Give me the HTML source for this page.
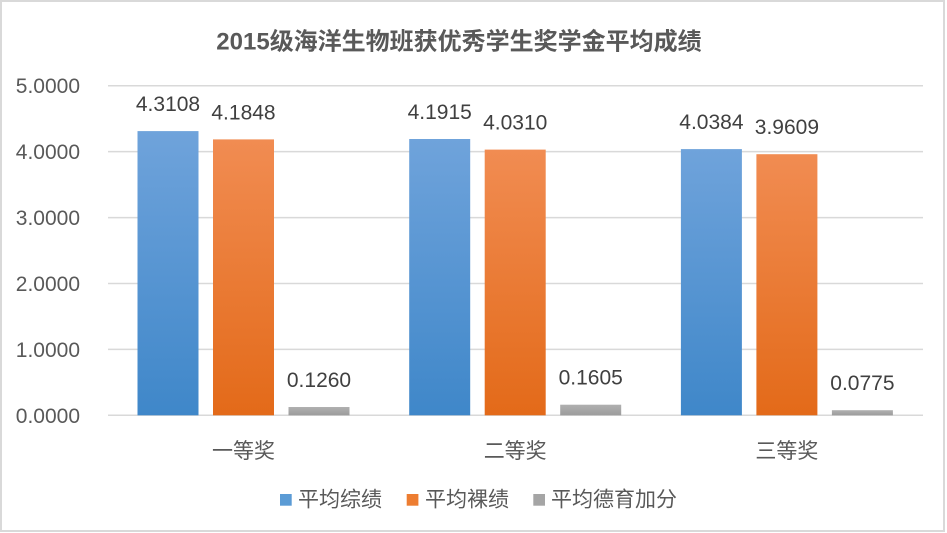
<!DOCTYPE html>
<html><head><meta charset="utf-8"><style>
html,body{margin:0;padding:0;background:#fff;}
svg{display:block;font-family:"Liberation Sans","Noto Sans CJK SC",sans-serif;}
</style></head><body>
<svg width="947" height="533" viewBox="0 0 947 533" xmlns="http://www.w3.org/2000/svg">
<defs>
<linearGradient id="gb" x1="0" y1="0" x2="0" y2="1"><stop offset="0" stop-color="#6fa3db"/><stop offset="1" stop-color="#3f87c9"/></linearGradient>
<linearGradient id="go" x1="0" y1="0" x2="0" y2="1"><stop offset="0" stop-color="#f18c52"/><stop offset="1" stop-color="#e36a19"/></linearGradient>
<linearGradient id="gg" x1="0" y1="0" x2="0" y2="1"><stop offset="0" stop-color="#b0b0b0"/><stop offset="1" stop-color="#9c9c9c"/></linearGradient>
</defs>
<rect x="0" y="0" width="947" height="533" fill="#fff"/>
<rect x="1" y="1" width="943" height="530" fill="none" stroke="#d9d9d9" stroke-width="2"/>
<text x="459" y="49.5" text-anchor="middle" font-size="24" font-weight="bold" fill="#595959">2015级海洋生物班获优秀学生奖学金平均成绩</text>
<g stroke="#d9d9d9" stroke-width="1.5">
<line x1="108" y1="85.7" x2="923" y2="85.7"/>
<line x1="108" y1="151.6" x2="923" y2="151.6"/>
<line x1="108" y1="217.6" x2="923" y2="217.6"/>
<line x1="108" y1="283.5" x2="923" y2="283.5"/>
<line x1="108" y1="349.4" x2="923" y2="349.4"/>
<line x1="108" y1="415.3" x2="923" y2="415.3"/>
</g>
<g font-size="21" fill="#595959" text-anchor="end">
<text x="80" y="93.2">5.0000</text>
<text x="80" y="159.1">4.0000</text>
<text x="80" y="225.1">3.0000</text>
<text x="80" y="291">2.0000</text>
<text x="80" y="356.9">1.0000</text>
<text x="80" y="422.8">0.0000</text>
</g>
<rect x="137.5" y="131.1" width="61" height="284.2" fill="url(#gb)"/>
<rect x="213" y="139.4" width="61" height="275.9" fill="url(#go)"/>
<rect x="288.5" y="407.0" width="61" height="8.3" fill="url(#gg)"/>
<rect x="409.2" y="139.0" width="61" height="276.3" fill="url(#gb)"/>
<rect x="484.7" y="149.6" width="61" height="265.7" fill="url(#go)"/>
<rect x="560.2" y="404.7" width="61" height="10.6" fill="url(#gg)"/>
<rect x="680.9" y="149.1" width="61" height="266.2" fill="url(#gb)"/>
<rect x="756.4" y="154.2" width="61" height="261.1" fill="url(#go)"/>
<rect x="831.9" y="410.2" width="61" height="5.1" fill="url(#gg)"/>
<g font-size="21" fill="#404040" text-anchor="middle">
<text x="168" y="111.1">4.3108</text>
<text x="243.5" y="119.4">4.1848</text>
<text x="319" y="387">0.1260</text>
<text x="439.7" y="119">4.1915</text>
<text x="515.2" y="129.6">4.0310</text>
<text x="590.7" y="384.7">0.1605</text>
<text x="711.4" y="129.1">4.0384</text>
<text x="786.9" y="134.2">3.9609</text>
<text x="862.4" y="390.2">0.0775</text>
</g>
<g font-size="21" fill="#595959" text-anchor="middle">
<text x="243.5" y="458">一等奖</text>
<text x="515.2" y="458">二等奖</text>
<text x="786.9" y="458">三等奖</text>
</g>
<rect x="280" y="494" width="11.7" height="11.7" fill="#5b9bd5"/>
<rect x="406.7" y="494" width="11.7" height="11.7" fill="#ed7d31"/>
<rect x="533.3" y="494" width="11.7" height="11.7" fill="#a5a5a5"/>
<g font-size="21" fill="#595959">
<text x="298" y="506.5">平均综绩</text>
<text x="425" y="506.5">平均裸绩</text>
<text x="551" y="506.5">平均德育加分</text>
</g>
</svg>
</body></html>
